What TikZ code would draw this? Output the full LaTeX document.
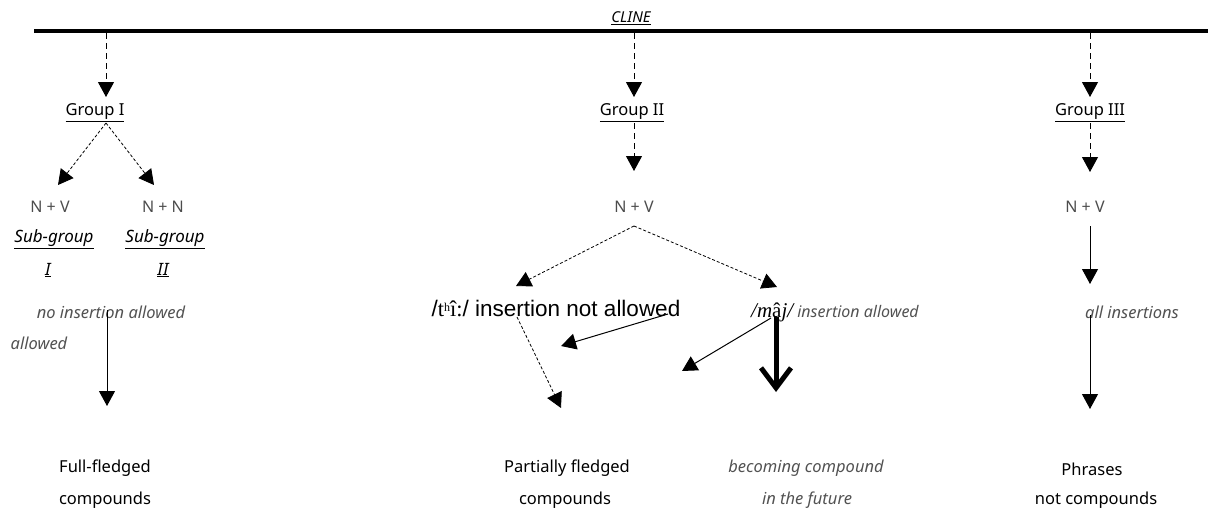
\documentclass[tikz,border=0pt]{standalone}
\usepackage{fontspec}
\setmainfont{Noto Sans}
\newfontfamily\arialf{Liberation Sans}
\newfontfamily\timesf{Liberation Serif}
\usetikzlibrary{arrows.meta}
\begin{document}
\begin{tikzpicture}[x=1pt,y=-1pt,
  lbl/.style={inner sep=0pt, font=\fontsize{16.5}{19}\selectfont},
  gry/.style={inner sep=0pt, text=black!70, font=\fontsize{16}{19}\selectfont},
  itl/.style={inner sep=0pt, text=black!68, font=\fontsize{16.5}{19}\selectfont\itshape},
  sub/.style={inner sep=0pt, font=\fontsize{17}{19}\selectfont\bfseries\itshape},
  tip/.style={-{Triangle[length=15pt,width=16pt]}},
  dsh/.style={tip, dash pattern=on 6pt off 4pt, line width=1pt},
  fdsh/.style={tip, dash pattern=on 3pt off 2pt, line width=0.8pt},
  sol/.style={tip, line width=1pt},
  thick arrow/.style={line width=5pt, -{Straight Barb[length=20pt,width=30pt]}},
]
\useasboundingbox (0,0) rectangle (1208,512);

% cline
\node[inner sep=0pt, font=\fontsize{15}{17}\selectfont\itshape] (cline) at (631,18) {\underline{CLINE}};
\coordinate (clL) at (34,31);
\coordinate (clR) at (1208,31);
\draw[line width=4pt] (clL) -- (clR);

% groups
\node[lbl] (g1) at (95,113) {\underline{Group I}};
\node[lbl] (g2) at (632,113) {\underline{Group II}};
\node[lbl] (g3) at (1090,113) {\underline{Group III}};

\coordinate (c1) at (106,33);  \coordinate (t1) at (106,97);
\coordinate (c2) at (634,33);  \coordinate (t2) at (634,97);
\coordinate (c3) at (1090,33); \coordinate (t3) at (1090,97);
\draw[dsh] (c1) -- (t1);
\draw[dsh] (c2) -- (t2);
\draw[dsh] (c3) -- (t3);

% Group I
\coordinate (g1b) at (106,123);
\coordinate (g1l) at (58,185);
\coordinate (g1r) at (154,185);
\draw[fdsh] (g1b) -- (g1l);
\draw[fdsh] (g1b) -- (g1r);
\node[gry] (nv1) at (50,207) {N + V};
\node[gry] (nn1) at (163,207) {N + N};
\node[sub] (sg1) at (54,239) {\underline{Sub-group}};
\node[sub] (sg2) at (165,239) {\underline{Sub-group}};
\node[sub] (r1) at (48,270) {\underline{I}};
\node[sub] (r2) at (163,270) {\underline{II}};
\node[itl] (noins) at (111,312) {no insertion allowed};
\node[itl] (allw) at (39,343) {allowed};
\coordinate (s1) at (107,310);
\coordinate (e1) at (107,406);
\draw[sol] (s1) -- (e1);
\node[lbl] (ff1) at (105,468) {Full-fledged};
\node[lbl] (ff2) at (105,500) {compounds};

% Group II
\coordinate (g2b) at (634,123);
\coordinate (g2t) at (634,171);
\draw[dsh] (g2b) -- (g2t);
\node[gry] (nv2) at (634,207) {N + V};
\coordinate (apex) at (634,226);
\coordinate (lt) at (516,286);
\coordinate (rt) at (777,287);
\draw[fdsh] (apex) -- (lt);
\draw[fdsh] (apex) -- (rt);
\node[inner sep=0pt, font=\arialf\fontsize{22.5}{25}\selectfont] (thi) at (556,309)
  {/{\timesf t\raisebox{0.55ex}{\fontsize{12}{12}\selectfont h}î:}/ insertion not allowed};
\node[inner sep=0pt, anchor=west] (maj) at (751,312)
  {{\timesf\fontsize{21}{23}\selectfont\itshape /m{\upshape â}j/}{\itshape\color{black!68}\fontsize{16}{19}\selectfont\ insertion allowed}};
\coordinate (d1s) at (517,317); \coordinate (d1e) at (561,408);
\draw[fdsh] (d1s) -- (d1e);
\coordinate (s2s) at (668,314); \coordinate (s2e) at (561,346);
\draw[sol] (s2s) -- (s2e);
\coordinate (s3s) at (771,318); \coordinate (s3e) at (682,371);
\draw[sol] (s3s) -- (s3e);
\coordinate (tks) at (776,317); \coordinate (tke) at (776,392);
\draw[thick arrow] (tks) -- (tke);
\node[lbl] (pf1) at (567,468) {Partially fledged};
\node[lbl] (pf2) at (565,500) {compounds};
\node[itl] (bc1) at (806,468) {becoming compound};
\node[itl] (bc2) at (807,500) {in the future};

% Group III
\coordinate (g3b) at (1090,123);
\coordinate (g3t) at (1090,172);
\draw[dsh] (g3b) -- (g3t);
\node[gry] (nv3) at (1085,207) {N + V};
\coordinate (s4s) at (1090,226); \coordinate (s4e) at (1090,284);
\draw[sol] (s4s) -- (s4e);
\node[itl] (allins) at (1132,312) {all insertions};
\coordinate (s5s) at (1090,315); \coordinate (s5e) at (1090,409);
\draw[sol] (s5s) -- (s5e);
\node[lbl] (ph1) at (1092,469) {Phrases};
\node[lbl] (ph2) at (1096,500) {not compounds};
\end{tikzpicture}
\end{document}
